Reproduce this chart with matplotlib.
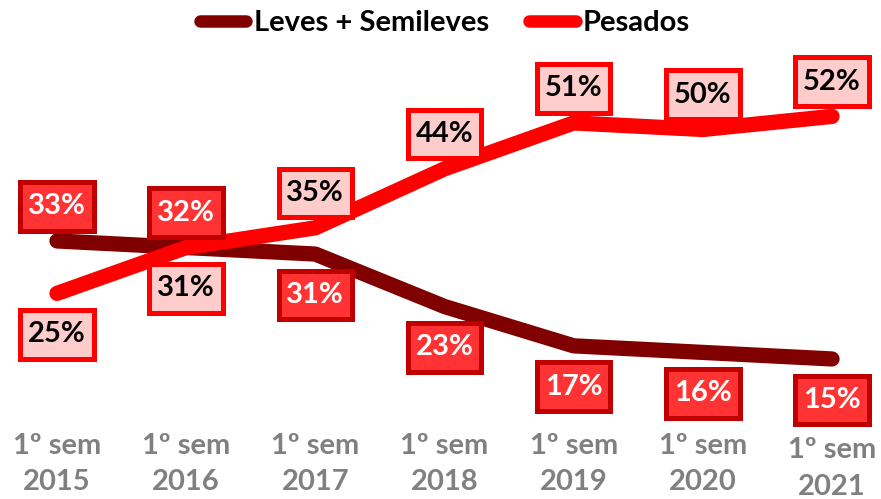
import matplotlib
matplotlib.use("Agg")
import matplotlib.pyplot as plt
import matplotlib.transforms as mtransforms
from matplotlib.path import Path

categories = ["1º sem\n2015", "1º sem\n2016", "1º sem\n2017", "1º sem\n2018",
              "1º sem\n2019", "1º sem\n2020", "1º sem\n2021"]
leves = [33, 32, 31, 23, 17, 16, 15]
pesados = [25, 32, 35, 44, 51, 50, 52]
leves_labels = ["33%", "32%", "31%", "23%", "17%", "16%", "15%"]
pesados_labels = ["25%", "31%", "35%", "44%", "51%", "50%", "52%"]
leves_pos = ["above", "above", "below", "below", "below", "below", "below"]
pesados_pos = ["below", "below", "above", "above", "above", "above", "above"]

plt.rcParams['font.family'] = ['Lato', 'DejaVu Sans']
plt.rcParams['font.weight'] = 'bold'


class RectBox:
    def __init__(self, padx, pady):
        self.padx = padx
        self.pady = pady

    def __call__(self, x0, y0, width, height, mutation_size):
        px = self.padx * mutation_size
        py = self.pady * mutation_size
        x0, y0 = x0 - px, y0 - py
        x1, y1 = x0 + width + 2 * px, y0 + height + 2 * py
        return Path([(x0, y0), (x1, y0), (x1, y1), (x0, y1), (x0, y0)], closed=True)


fig = plt.figure(figsize=(8.81, 4.99), dpi=100)
ax = fig.add_axes([0, (499 - 420) / 499, 1, 380 / 499])

x = list(range(len(categories)))
ax.plot(x, leves, color="#800000", lw=11, solid_capstyle="round",
        solid_joinstyle="round", label="Leves + Semileves", zorder=2)
ax.plot(x, pesados, color="#ff0000", lw=11, solid_capstyle="round",
        solid_joinstyle="round", label="Pesados", zorder=3)

ax.set_xlim(-0.441, 6.379)
ax.set_ylim(5.69, 63.65)

for i, (v, t, p) in enumerate(zip(leves, leves_labels, leves_pos)):
    ax.annotate(t, (i, v), xytext=(0, 25 if p == "above" else -29.5),
                textcoords="offset points", ha="center", va="center",
                fontsize=21, fontweight="bold", color="white", zorder=5,
                bbox=dict(boxstyle=RectBox(0.27, 0.39), fc="#ff3333", ec="#c00000", lw=3.6))
for i, (v, t, p) in enumerate(zip(pesados, pesados_labels, pesados_pos)):
    ax.annotate(t, (i, v), xytext=(0, 25 if p == "above" else -29.5),
                textcoords="offset points", ha="center", va="center",
                fontsize=21, fontweight="bold", color="black", zorder=5,
                bbox=dict(boxstyle=RectBox(0.27, 0.39), fc="#ffcccc", ec="#ff0000", lw=3.6))

ax.set_xticks(x)
ax.set_xticklabels(categories, fontsize=21, fontweight="bold", color="#808080",
                   linespacing=1.5)
ax.tick_params(axis="x", length=0, pad=9)
ax.set_yticks([])
for s in ax.spines.values():
    s.set_visible(False)

last = ax.get_xticklabels()[-1]
last.set_transform(last.get_transform() + mtransforms.ScaledTranslation(0, -5 / 100, fig.dpi_scale_trans))

leg = fig.legend(loc="center", bbox_to_anchor=(445 / 881, 1 - 23 / 499), ncol=2,
                 frameon=False, handlelength=1.6, handletextpad=0.26,
                 columnspacing=1.36, prop=dict(weight="bold", size=21))
for h in leg.legend_handles:
    h.set_linewidth(9)

fig.savefig("out.png", dpi=100)
